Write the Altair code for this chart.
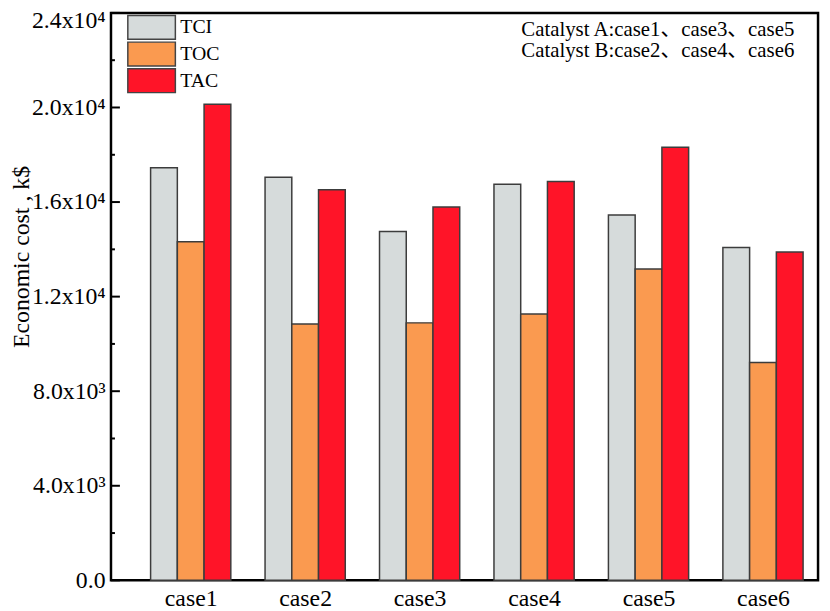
import altair as alt
import pandas as pd

# ---- data ----
cases = ["case1", "case2", "case3", "case4", "case5", "case6"]
series = ["TCI", "TOC", "TAC"]
tci = [17450, 17050, 14750, 16750, 15450, 14080]
toc = [14320, 10840, 10890, 11270, 13170, 9210]
tac = [20140, 16520, 15790, 16870, 18320, 13890]
colors = ["#D6DBDB", "#FA9A50", "#FF1428"]
major_ticks = [0, 4000, 8000, 12000, 16000, 20000, 24000]
minor_ticks = [2000, 6000, 10000, 14000, 18000, 22000]
notes = ["Catalyst A:case1、case3、case5\nCatalyst B:case2、case4、case6"]

FONT = "Liberation Serif, Times New Roman, Noto Sans CJK SC, serif"
BAR_W = 0.2336  # bar width in x-data units (style)

rows = []
for i, c in enumerate(cases):
    for k, (s, vals) in enumerate(zip(series, [tci, toc, tac])):
        rows.append({"case": c, "idx": i + 1, "sidx": k, "series": s, "value": vals[i]})
df = pd.DataFrame(rows)

xs = alt.Scale(domain=[0.3035, 6.481], nice=False, zero=False)
ys = alt.Scale(domain=[0, 24000], nice=False)

label_expr = (
    "datum.value == 0 ? '0.0' : (datum.value >= 10000 ? "
    "format(datum.value/10000, '.1f') + 'x10\u2074' : "
    "format(datum.value/1000, '.1f') + 'x10\u00b3')"
)

yaxis = alt.Axis(
    values=major_ticks,
    labelExpr=label_expr,
    ticks=False,
    domain=False,
    grid=False,
    title="Economic cost , k$",
    titleFont=FONT,
    titleFontSize=24,
    titleFontWeight="normal",
    titleColor="black",
    titleAngle=-90,
    titleAlign="center",
    titleBaseline="middle",
    titleX=-90,
    titleY=246,
    labelFont=FONT,
    labelFontSize=24,
    labelColor="black",
    labelPadding=6,
    labelOffset={"condition": {"test": "datum.value == 24000", "value": 8}, "value": 0},
)

bars = (
    alt.Chart(df)
    .transform_calculate(
        x0=f"datum.idx + (datum.sidx - 1) * {BAR_W} - {BAR_W / 2}",
        x1=f"datum.idx + (datum.sidx - 1) * {BAR_W} + {BAR_W / 2}",
    )
    .mark_bar(stroke="#3c3c3c", strokeWidth=1.5)
    .encode(
        x=alt.X(
            "x0:Q",
            scale=xs,
            axis=alt.Axis(
                values=[1, 2, 3, 4, 5, 6],
                labelExpr="'case' + datum.value",
                ticks=False,
                domain=False,
                grid=False,
                title=None,
                labelFont=FONT,
                labelFontSize=24,
                labelColor="black",
                labelPadding=6,
            ),
        ),
        x2="x1:Q",
        y=alt.Y("value:Q", scale=ys, axis=yaxis),
        y2=alt.datum(0),
        color=alt.Color(
            "series:N",
            scale=alt.Scale(domain=series, range=colors),
            legend=alt.Legend(
                title=None,
                orient="none",
                legendX=15,
                legendY=1,
                symbolType="M-1,-1.5H5V1.5H-1Z",
                symbolSize=256,
                symbolStrokeColor="#444444",
                symbolStrokeWidth=1.5,
                symbolOpacity=1,
                labelFont=FONT,
                labelFontSize=20,
                labelColor="black",
                labelOffset=35,
                rowPadding=0,
                clipHeight=27,
                padding=0,
            ),
        ),
    )
)

major = (
    alt.Chart(pd.DataFrame({"value": major_ticks}))
    .mark_rule(color="black", strokeWidth=2)
    .encode(y=alt.Y("value:Q", scale=ys, axis=yaxis), x=alt.value(0), x2=alt.value(9))
)
minor = (
    alt.Chart(pd.DataFrame({"value": minor_ticks}))
    .mark_rule(color="black", strokeWidth=2)
    .encode(y=alt.Y("value:Q", scale=ys, axis=yaxis), x=alt.value(0), x2=alt.value(4))
)

note = (
    alt.Chart(pd.DataFrame({"t": notes}))
    .mark_text(
        align="right",
        baseline="alphabetic",
        lineBreak="\n",
        lineHeight=22,
        font=FONT,
        fontSize=21,
        color="black",
    )
    .encode(x=alt.value(690), y=alt.value(23), text="t:N")
)

chart = (
    alt.layer(bars, major, minor, note)
    .properties(
        width=714,
        height=573,
        background="white",
        autosize=alt.AutoSizeParams(type="none"),
        padding={"left": 104, "top": 2, "right": 4, "bottom": 28},
    )
    .configure_view(stroke="black", strokeWidth=2.5)
)

chart.save("out.html", embed_options={"renderer": "svg", "actions": False})
